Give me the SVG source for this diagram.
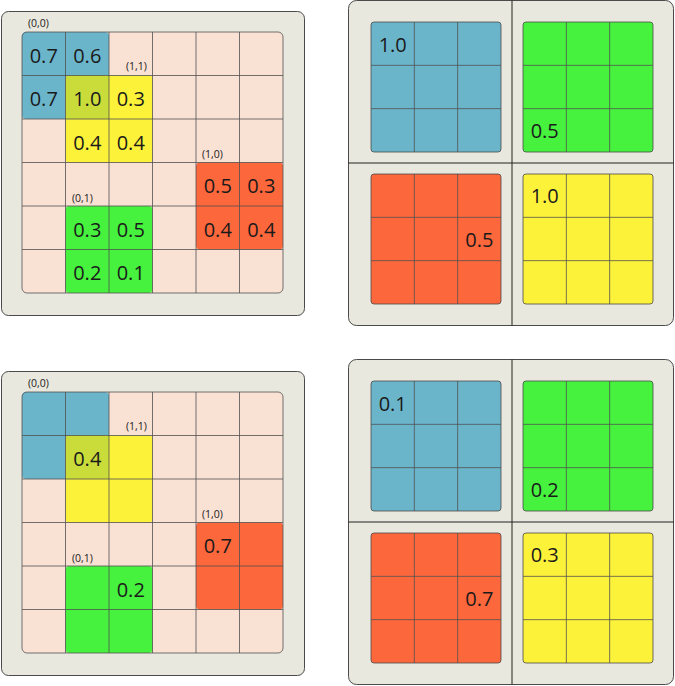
<svg xmlns="http://www.w3.org/2000/svg" xmlns:xlink="http://www.w3.org/1999/xlink" width="675" height="686" viewBox="0 0 675 686">
<style>
.panel{fill:#e9e8de;stroke:#4a4a4a;stroke-width:1}
.grid{fill:#f9e1d4}
.gline{fill:none;stroke:#505050;stroke-width:0.8}
.blue{fill:#6bb5cb}
.yellow{fill:#fdf23a}
.green{fill:#46f23e}
.orange{fill:#fd673c}
.lime{fill:#c9dc3a}
.div{stroke:#222;stroke-width:1}
.num{font-family:"Open Sans","Noto Sans",sans-serif;font-size:20px;fill:#1a1a1a;text-anchor:middle}
.lbl{font-family:"Open Sans","Noto Sans",sans-serif;font-size:10.5px;fill:#1a1a1a}
</style>
<defs>
<g id="leftbase">
<rect class="panel" x="1.5" y="11.5" width="303" height="304" rx="7"/>
<rect class="grid" x="22" y="32" width="261" height="261" rx="5"/>
<rect class="blue" x="22" y="32" width="87" height="87" rx="4"/>
<rect class="yellow" x="65.5" y="75.5" width="87" height="87" rx="4"/>
<path class="lime" d="M69.5 75.5H109V119H65.5V79.5A4 4 0 0 1 69.5 75.5Z"/>
<rect class="orange" x="196" y="162.5" width="87" height="87" rx="4"/>
<rect class="green" x="65.5" y="206" width="87" height="87" rx="4"/>
<path class="gline" d="M65.5 32V293M109 32V293M152.5 32V293M196 32V293M239.5 32V293M22 75.5H283M22 119H283M22 162.5H283M22 206H283M22 249.5H283"/>
<rect class="gline" x="22" y="32" width="261" height="261" rx="5"/>
<text class="lbl" x="28" y="27">(0,0)</text>
<text class="lbl" x="126" y="70">(1,1)</text>
<text class="lbl" x="202" y="158">(1,0)</text>
<text class="lbl" x="72" y="202">(0,1)</text>
</g>
<path id="sqlines" class="gline" d="M43.33 0V130M86.67 0V130M0 43.33H130M0 86.67H130"/>
<g id="rightbase">
<rect class="panel" x="348.5" y="0.5" width="325" height="325" rx="8"/>
<line class="div" x1="512" y1="0.5" x2="512" y2="325.5"/>
<line class="div" x1="348.5" y1="163" x2="673.5" y2="163"/>
<rect class="blue" x="371" y="22" width="130" height="130" rx="3" stroke="#4a4a4a" stroke-width="0.8"/>
<use xlink:href="#sqlines" x="371" y="22"/>
<rect class="green" x="523" y="22" width="130" height="130" rx="3" stroke="#4a4a4a" stroke-width="0.8"/>
<use xlink:href="#sqlines" x="523" y="22"/>
<rect class="orange" x="371" y="174" width="130" height="130" rx="3" stroke="#4a4a4a" stroke-width="0.8"/>
<use xlink:href="#sqlines" x="371" y="174"/>
<rect class="yellow" x="523" y="174" width="130" height="130" rx="3" stroke="#4a4a4a" stroke-width="0.8"/>
<use xlink:href="#sqlines" x="523" y="174"/>
</g>
</defs>
<g id="connectors"></g>
<g id="top-left">
<use xlink:href="#leftbase"/>
<text class="num" x="43.75" y="62.5">0.7</text>
<text class="num" x="87.25" y="62.5">0.6</text>
<text class="num" x="43.75" y="106">0.7</text>
<text class="num" x="87.25" y="106">1.0</text>
<text class="num" x="130.75" y="106">0.3</text>
<text class="num" x="87.25" y="149.5">0.4</text>
<text class="num" x="130.75" y="149.5">0.4</text>
<text class="num" x="217.75" y="193">0.5</text>
<text class="num" x="261.25" y="193">0.3</text>
<text class="num" x="217.75" y="236.5">0.4</text>
<text class="num" x="261.25" y="236.5">0.4</text>
<text class="num" x="87.25" y="236.5">0.3</text>
<text class="num" x="130.75" y="236.5">0.5</text>
<text class="num" x="87.25" y="280">0.2</text>
<text class="num" x="130.75" y="280">0.1</text>
</g>
<g id="top-right">
<use xlink:href="#rightbase"/>
<text class="num" x="392.7" y="52">1.0</text>
<text class="num" x="544.7" y="138">0.5</text>
<text class="num" x="479.3" y="247">0.5</text>
<text class="num" x="544.7" y="203">1.0</text>
</g>
<g id="bottom-left" transform="translate(0,360)">
<use xlink:href="#leftbase"/>
<text class="num" x="87.25" y="106">0.4</text>
<text class="num" x="217.75" y="193">0.7</text>
<text class="num" x="130.75" y="236.5">0.2</text>
</g>
<g id="bottom-right" transform="translate(0,359)">
<use xlink:href="#rightbase"/>
<text class="num" x="392.7" y="52">0.1</text>
<text class="num" x="544.7" y="138">0.2</text>
<text class="num" x="479.3" y="247">0.7</text>
<text class="num" x="544.7" y="203">0.3</text>
</g>
</svg>
